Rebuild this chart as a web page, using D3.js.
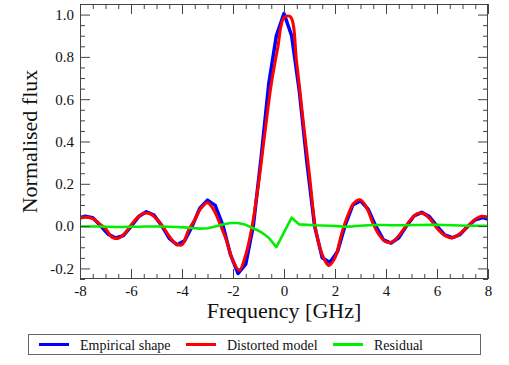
<!DOCTYPE html>
<html>
<head>
<meta charset="utf-8">
<script src="https://cdn.jsdelivr.net/npm/d3@7"></script>
<style>
  html, body { margin: 0; padding: 0; background: #fff; }
  svg text { font-family: "Liberation Serif", "Times New Roman", serif; }
</style>
</head>
<body>
<div id="chart"></div>
<script>
// empirical (measured) line shape, sampled every 0.3 GHz
const blueFreq = [
  -8.1, -7.8, -7.5, -7.2, -6.9, -6.6, -6.3, -6.0, -5.7, -5.4, -5.1, -4.8, -4.5, -4.2,
  -3.9, -3.6, -3.3, -3.0, -2.7, -2.4, -2.1, -1.8, -1.5, -1.2, -0.9, -0.6, -0.3, 0.0,
  0.3, 0.6, 0.9, 1.2, 1.5, 1.8, 2.1, 2.4, 2.7, 3.0, 3.3, 3.6, 3.9, 4.2,
  4.5, 4.8, 5.1, 5.4, 5.7, 6.0, 6.3, 6.6, 6.9, 7.2, 7.5, 7.8, 8.1,
];
const blueFlux = [
  0.035, 0.047, 0.040, 0.003, -0.038, -0.056, -0.045, -0.002, 0.045, 0.068, 0.052, 0.003, -0.058, -0.088,
  -0.070, 0.000, 0.085, 0.123, 0.098, 0.005, -0.135, -0.224, -0.180, 0.005, 0.320, 0.670, 0.900, 1.005,
  0.900, 0.640, 0.300, 0.000, -0.150, -0.172, -0.120, 0.005, 0.100, 0.120, 0.080, 0.000, -0.065, -0.080,
  -0.055, 0.000, 0.048, 0.065, 0.045, 0.000, -0.042, -0.055, -0.040, -0.002, 0.030, 0.040, 0.030,
];

// distorted sinc model, every 0.25 GHz
const redFreq = [
  -8.0, -7.75, -7.5, -7.25, -7.0, -6.75, -6.5, -6.25, -6.0, -5.75, -5.5, -5.25, -5.0,
  -4.75, -4.5, -4.25, -4.0, -3.75, -3.5, -3.25, -3.0, -2.75, -2.5, -2.25, -2.0,
  -1.75, -1.5, -1.25, -1.0, -0.75, -0.5, -0.25, 0.0, 0.25, 0.5, 0.75, 1.0, 1.25,
  1.5, 1.75, 2.0, 2.25, 2.5, 2.75, 3.0, 3.25, 3.5, 3.75, 4.0, 4.25, 4.5,
  4.75, 5.0, 5.25, 5.5, 5.75, 6.0, 6.25, 6.5, 6.75, 7.0, 7.25, 7.5, 7.75, 8.0,
];
const redFlux = [
  0.038, 0.042, 0.035, 0.012, -0.012, -0.052, -0.058, -0.035, 0.005, 0.040, 0.060, 0.058, 0.035,
  -0.002, -0.048, -0.083, -0.088, -0.020, 0.030, 0.085, 0.111, 0.075, 0.007, -0.070, -0.165,
  -0.208, -0.135, 0.000, 0.200, 0.440, 0.670, 0.840, 0.985, 0.990, 0.770, 0.500, 0.240, -0.020,
  -0.135, -0.186, -0.150, -0.040, 0.050, 0.110, 0.124, 0.085, 0.010, -0.045, -0.075, -0.075, -0.045,
  -0.005, 0.035, 0.060, 0.058, 0.030, -0.010, -0.040, -0.055, -0.048, -0.025, 0.003, 0.033, 0.047, 0.040,
];

// residual, on the same 0.3 GHz grid as the empirical shape
const greenFlux = [
  -0.002, -0.002, -0.002, -0.002, -0.003, -0.004, -0.004, -0.003, -0.003, -0.002, -0.002, -0.002, -0.003, -0.004,
  -0.006, -0.009, -0.012, -0.010, -0.002, 0.008, 0.015, 0.015, 0.006, -0.010, -0.028, -0.055, -0.099, -0.030,
  0.040, 0.008, 0.006, 0.004, 0.003, 0.002, 0.000, -0.003, -0.001, 0.002, 0.004, 0.005, 0.005, 0.004,
  0.004, 0.004, 0.005, 0.005, 0.006, 0.006, 0.005, 0.004, 0.003, 0.002, 0.002, 0.002, 0.002,
];

const xTicks = [-8, -6, -4, -2, 0, 2, 4, 6, 8];
const yTicks = [-0.2, 0.0, 0.2, 0.4, 0.6, 0.8, 1.0];

const legendItems = [
  { label: "Empirical shape", color: "#0000ff" },
  { label: "Distorted model", color: "#ff0000" },
  { label: "Residual", color: "#00ee00" },
];

const W = 509, H = 365;
const PLOT = { left: 80, right: 488, top: 4, bottom: 279 };
const MAJOR = 10, MINOR = 5;
const SERIF = '"Liberation Serif", "Times New Roman", serif';

const svg = d3.select("#chart").append("svg")
  .attr("width", W)
  .attr("height", H)
  .attr("viewBox", [0, 0, W, H]);

const x = d3.scaleLinear().domain([-8, 8]).range([PLOT.left, PLOT.right]);
const y = d3.scaleLinear().domain([-0.25, 1.05]).range([PLOT.bottom, PLOT.top]);

const xMinor = d3.range(-8, 8.001, 0.5).filter(v => Math.abs(v % 2) > 1e-6);
const yMinor = d3.range(-0.25, 1.0501, 0.05).map(v => +v.toFixed(2))
  .filter(v => Math.abs(Math.round(v * 10) - v * 10) > 1e-6 || Math.round(v * 10) % 2 !== 0);

svg.append("defs").append("clipPath").attr("id", "plot-clip")
  .append("rect")
  .attr("x", PLOT.left)
  .attr("y", PLOT.top)
  .attr("width", PLOT.right - PLOT.left)
  .attr("height", PLOT.bottom - PLOT.top);

// series
const gLines = svg.append("g").attr("clip-path", "url(#plot-clip)");

const blueLine = d3.line()
  .x((d, i) => x(blueFreq[i]))
  .y(d => y(d));
gLines.append("path")
  .datum(blueFlux)
  .attr("d", blueLine)
  .attr("fill", "none")
  .attr("stroke", legendItems[0].color)
  .attr("stroke-width", 3.5)
  .attr("stroke-linejoin", "round");

const redLine = d3.line()
  .x((d, i) => x(redFreq[i]))
  .y(d => y(d))
  .curve(d3.curveCatmullRom);
gLines.append("path")
  .datum(redFlux)
  .attr("d", redLine)
  .attr("fill", "none")
  .attr("stroke", legendItems[1].color)
  .attr("stroke-width", 3)
  .attr("stroke-linejoin", "round");

gLines.append("path")
  .datum(greenFlux)
  .attr("d", blueLine)
  .attr("fill", "none")
  .attr("stroke", legendItems[2].color)
  .attr("stroke-width", 2.6)
  .attr("stroke-linejoin", "round");

// axes: ticks pointing inward on all four sides
function addAxis(axis, tx, ty, values, size, labels) {
  const g = svg.append("g")
    .attr("transform", `translate(${tx},${ty})`)
    .call(axis.tickValues(values).tickSize(-size).tickPadding(6)
      .tickFormat(labels || (() => "")));
  g.attr("font-family", null).attr("font-size", null);
  g.select(".domain").remove();
  g.selectAll(".tick line").attr("stroke", "#444").attr("stroke-width", 1);
  g.selectAll(".tick text")
    .attr("fill", "#111")
    .style("font-family", SERIF)
    .style("font-size", "15px");
  return g;
}

addAxis(d3.axisBottom(x), 0, PLOT.bottom, xTicks, MAJOR, d => String(d));
addAxis(d3.axisBottom(x), 0, PLOT.bottom, xMinor, MINOR);
addAxis(d3.axisTop(x), 0, PLOT.top, xTicks, MAJOR);
addAxis(d3.axisTop(x), 0, PLOT.top, xMinor, MINOR);
addAxis(d3.axisLeft(y), PLOT.left, 0, yTicks, MAJOR, d => d.toFixed(1));
addAxis(d3.axisLeft(y), PLOT.left, 0, yMinor, MINOR);
addAxis(d3.axisRight(y), PLOT.right, 0, yTicks, MAJOR);
addAxis(d3.axisRight(y), PLOT.right, 0, yMinor, MINOR);

svg.append("rect")
  .attr("x", PLOT.left + 0.5)
  .attr("y", PLOT.top + 0.5)
  .attr("width", PLOT.right - PLOT.left - 1)
  .attr("height", PLOT.bottom - PLOT.top - 1)
  .attr("fill", "none")
  .attr("stroke", "#444")
  .attr("stroke-width", 1);

// titles
svg.append("text")
  .attr("x", (PLOT.left + PLOT.right) / 2)
  .attr("y", 318)
  .attr("text-anchor", "middle")
  .style("font-family", SERIF)
  .style("font-size", "22px")
  .attr("fill", "#111")
  .text("Frequency [GHz]");

svg.append("text")
  .attr("transform", `translate(37,${(PLOT.top + PLOT.bottom) / 2}) rotate(-90)`)
  .attr("text-anchor", "middle")
  .style("font-family", SERIF)
  .style("font-size", "22px")
  .attr("fill", "#111")
  .text("Normalised flux");

// legend
const legend = svg.append("g");
legend.append("rect")
  .attr("x", 28.5)
  .attr("y", 334.5)
  .attr("width", 452)
  .attr("height", 20)
  .attr("fill", "#fff")
  .attr("stroke", "#666")
  .attr("stroke-width", 1);

const legendX = [39, 186, 333];
legendItems.forEach((item, i) => {
  const lx = legendX[i];
  legend.append("line")
    .attr("x1", lx).attr("x2", lx + 30)
    .attr("y1", 344.5).attr("y2", 344.5)
    .attr("stroke", item.color)
    .attr("stroke-width", 3);
  legend.append("text")
    .attr("x", lx + 41)
    .attr("y", 349.5)
    .style("font-family", SERIF)
    .style("font-size", "14px")
    .attr("fill", "#111")
    .text(item.label);
});
</script>
</body>
</html>
